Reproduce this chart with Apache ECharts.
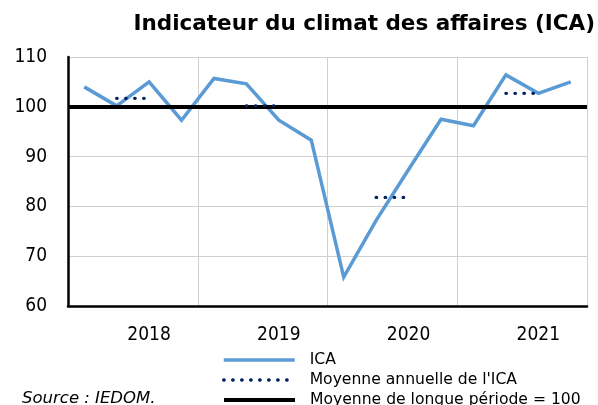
<!DOCTYPE html>
<html>
<head>
<meta charset="utf-8">
<script src="https://cdn.jsdelivr.net/npm/echarts@6/dist/echarts.min.js"></script>
<style>
html,body{margin:0;padding:0;background:#fff;}
#c{width:598px;height:405px;}
</style>
</head>
<body>
<div id="c"></div>
<script>
const years = ['2018', '2019', '2020', '2021'];
const quarters = ['T1', 'T2', 'T3', 'T4'];
const ica = [104.0, 100.2, 105.0, 97.3, 105.7, 104.6, 97.3, 93.3, 65.8, 77.2, 87.4, 97.5, 96.2, 106.4, 102.7, 105.0];
const annualAvg = [101.7, 100.2, 81.8, 102.7];
const longTerm = 100;
const yTicks = [60, 70, 80, 90, 100, 110];
const legendNames = ['ICA', "Moyenne annuelle de l'ICA", 'Moyenne de longue période = 100'];

const FONT_C = '"DejaVu Sans Condensed", "DejaVu Sans", sans-serif';
const FONT = '"DejaVu Sans", sans-serif';
const categories = years.flatMap(y => quarters.map(q => q + ' ' + y));
// annual average drawn on the 2nd and 3rd quarter of each year
const avgData = categories.map((c, i) => (i % 4 === 1 || i % 4 === 2) ? annualAvg[Math.floor(i / 4)] : null);

const legendWidths = [3.5, 3.3, 4];
const legendTops = [352, 372, 392];
const legends = legendNames.map((n, k) => ({
  orient: 'vertical',
  left: 222,
  top: legendTops[k],
  itemWidth: 71,
  itemHeight: 14,
  padding: 0,
  itemStyle: {opacity: 0},
  lineStyle: {width: legendWidths[k]},
  textStyle: {fontFamily: FONT, fontSize: 15.6, color: '#000', padding: [2, 0, 0, 10]},
  data: [n]
}));

const chart = echarts.init(document.getElementById('c'), null, {renderer: 'canvas'});
chart.setOption({
  animation: false,
  backgroundColor: '#fff',
  title: {
    text: 'Indicateur du climat des affaires (ICA)',
    right: 3,
    top: 13,
    padding: 0,
    textStyle: {fontFamily: FONT, fontWeight: 'bold', fontSize: 21.5, color: '#000'}
  },
  grid: {left: 68, right: 11, top: 57, bottom: 99, containLabel: false},
  xAxis: [{
    type: 'category',
    data: categories,
    boundaryGap: true,
    axisLine: {show: true, lineStyle: {color: '#000', width: 2.5}},
    axisTick: {show: false},
    splitLine: {show: false},
    axisLabel: {
      interval: (i) => i % 4 === 2,
      formatter: (v) => v.split(' ')[1],
      fontFamily: FONT_C, fontSize: 19, color: '#000', margin: 20
    }
  }, {
    type: 'category',
    data: years,
    position: 'bottom',
    boundaryGap: true,
    axisLine: {show: false},
    axisTick: {show: false},
    axisLabel: {show: false},
    splitLine: {show: true, interval: 0, lineStyle: {color: '#d0d0d0', width: 1}}
  }],
  yAxis: {
    type: 'value',
    min: yTicks[0],
    max: yTicks[yTicks.length - 1],
    interval: 10,
    axisLine: {show: true, lineStyle: {color: '#000', width: 2.5}},
    axisTick: {show: false},
    splitLine: {show: true, lineStyle: {color: '#d0d0d0', width: 1}},
    axisLabel: {fontFamily: FONT_C, fontSize: 19, color: '#000', margin: 21}
  },
  legend: legends,
  graphic: [{
    type: 'text',
    left: 22,
    top: 390,
    style: {text: 'Source : IEDOM.', fontFamily: FONT, fontStyle: 'italic', fontSize: 16.5, fill: '#000'}
  }],
  series: [{
    name: legendNames[2],
    type: 'line',
    data: [],
    symbol: 'none',
    lineStyle: {color: '#000', width: 4},
    itemStyle: {color: '#000'},
    markLine: {
      silent: true,
      symbol: ['none', 'none'],
      label: {show: false},
      lineStyle: {color: '#000', width: 4, type: 'solid'},
      data: [{yAxis: longTerm}]
    },
    z: 3
  }, {
    name: legendNames[0],
    type: 'line',
    data: ica,
    symbol: 'none',
    lineStyle: {color: '#5B9BD5', width: 3.5, join: 'miter'},
    itemStyle: {color: '#5B9BD5'},
    z: 4
  }, {
    name: legendNames[1],
    type: 'line',
    data: avgData,
    symbol: 'none',
    connectNulls: false,
    lineStyle: {color: '#002060', width: 3.3, type: [0.5, 8.5], cap: 'round'},
    itemStyle: {color: '#002060'},
    z: 5
  }]
});
</script>
</body>
</html>
